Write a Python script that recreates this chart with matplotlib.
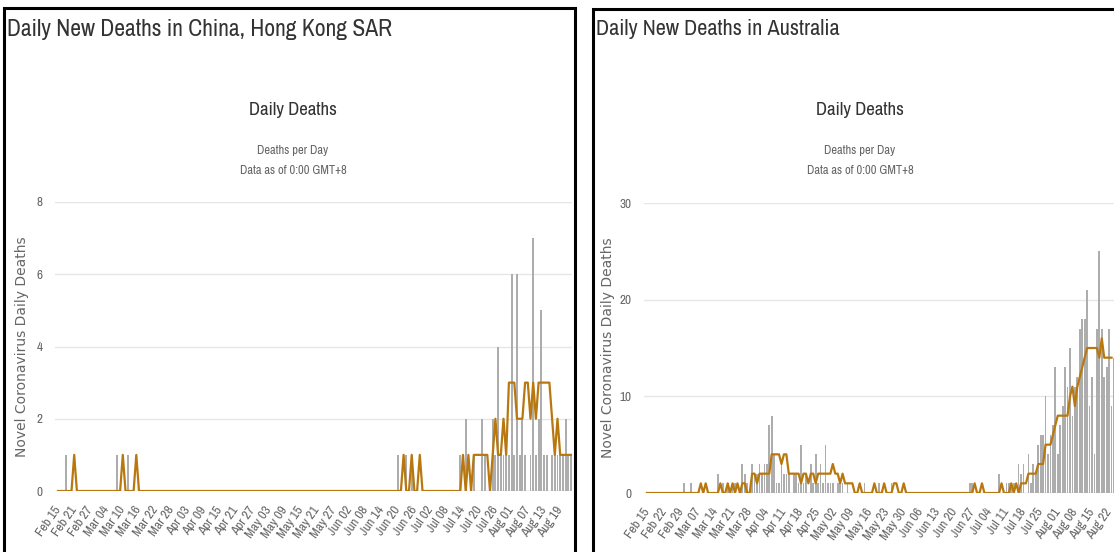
import matplotlib
matplotlib.use("Agg")
import matplotlib.pyplot as plt
import pandas as pd
from matplotlib.patches import Rectangle

# daily values, day 0 = Feb 15 2020
start = "2020-02-15"

# China, Hong Kong SAR (days 0..190)
hk_bars = ([0, 0, 0, 1, 0, 0, 0, 0, 0, 0, 0, 0, 0, 0, 0] +           # Feb 15-29
           [0] * 7 + [1, 0, 0, 0, 1] + [0] * 19 +                    # Mar
           [0] * 30 +                                                 # Apr
           [0] * 31 +                                                 # May
           [0] * 19 + [1, 0, 0, 1, 0, 1] + [0] * 5 +                  # Jun
           [0] * 12 + [1, 0, 2, 0, 0, 1, 0, 0, 2, 1, 0, 0, 2, 1, 4, 1, 1, 1, 1] +  # Jul
           [6, 1, 6, 1, 2, 1, 0, 1, 7, 1, 2, 5, 1, 1, 0, 1, 1, 1, 1, 1, 2, 1, 1])  # Aug 1-23
hk_line = ([0, 0, 0, 0, 0, 0, 1, 0, 0, 0, 0, 0, 0, 0, 0] +
           [0] * 9 + [1, 0, 0, 0, 0, 1] + [0] * 16 +
           [0] * 30 +
           [0] * 31 +
           [0] * 21 + [1, 0, 0, 1, 0, 0, 1, 0, 0] +
           [0] * 13 + [1, 0, 1, 0, 1, 1, 1, 1, 1, 1, 0, 1, 2, 1, 1, 2, 1, 3] +
           [3, 3, 2, 2, 2, 3, 3, 2, 3, 2, 3, 3, 3, 3, 3, 2, 1, 2, 1, 1, 1, 1, 1])

# Australia (days 0..192)
au_bars = ([0] * 15 +                                                 # Feb 15-29
           [1, 0, 0, 1, 0, 0, 0, 0, 0, 0, 0, 0, 0, 0, 2, 0, 1, 0, 1, 0, 1, 1, 0, 0,
            3, 2, 1, 0, 3, 2, 2] +                                    # Mar
           [3, 2, 3, 3, 7, 8, 4, 1, 1, 3, 2, 2, 2, 0, 2, 2, 1, 5, 1, 2, 0, 3, 1, 4, 1,
            3, 1, 5, 1, 1] +                                          # Apr
           [1, 0, 1, 1, 1, 0, 1, 0, 0, 0, 0, 0, 0, 1, 0, 0, 0, 0, 0, 1, 0, 0, 0, 0, 1,
            0, 0, 0, 0, 0, 0] +                                       # May
           [0] * 25 + [1, 1, 0, 0, 0] +                                # Jun
           [0] * 7 + [2, 0, 0, 1, 1, 1, 1, 0, 3, 2, 3, 0, 4, 1, 3, 2, 5, 6, 6, 10, 4,
            6, 7, 13, 4, 7] +                                         # Jul
           [9, 13, 11, 15, 8, 11, 12, 17, 18, 18, 21, 9, 12, 4, 17, 25, 17, 12, 13,
            17, 9, 14, 16])                                           # Aug 1-23
au_line = ([0] * 15 +
           [0, 0, 0, 0, 0, 0, 0, 1, 0, 1, 0, 0, 0, 0, 0, 1, 0, 0, 1, 0, 1, 0, 1, 0,
            1, 1, 0, 0, 2, 2, 1] +
           [2, 2, 2, 2, 2, 4, 4, 4, 4, 3, 4, 4, 2, 2, 2, 2, 2, 1, 2, 2, 1, 2, 2, 1, 2,
            2, 2, 2, 2, 2] +
           [3, 2, 2, 1, 2, 1, 1, 1, 1, 0, 0, 1, 0, 0, 0, 0, 0, 1, 0, 0, 0, 1, 0, 0, 0,
            1, 1, 0, 0, 1, 0] +
           [0] * 27 + [1, 0, 0] +
           [1] + [0] * 7 + [1, 0, 0, 0, 1, 0, 1, 0, 1, 1, 1, 2, 2, 2, 2, 3, 3, 3, 5,
            5, 5, 6, 7] +
           [8, 8, 8, 8, 8, 10, 11, 9, 11, 12, 13, 14, 15, 15, 15, 15, 15, 14, 16, 14,
            14, 14, 14])

W, H = 1114, 552
BAR = "#adadad"
LINE = "#b8780f"
NARROW = ["Archivo Narrow", "Liberation Sans", "DejaVu Sans"]


def fx(x):
    return x / W


def fy(y):
    return 1 - y / H


fig = plt.figure(figsize=(W / 100, H / 100), dpi=100)
fig.patch.set_facecolor("white")


def panel(title, title_size, bars, line, box, ax_px, day0_px, px_day, ymax, ystep,
          tick_step, cx, label_x):
    # black frame around each screenshot panel
    x0, y0, x1, y1 = box
    fig.add_artist(Rectangle((fx(x0), fy(y1)), fx(x1 - x0), (y1 - y0) / H,
                             fill=False, lw=2.2, ec="black", transform=fig.transFigure,
                             clip_on=False))
    fig.text(fx(x0 + 3), fy(29), title, fontsize=title_size, color="#333333",
             family=NARROW, va="center", ha="left")
    fig.text(fx(cx), fy(110), "Daily Deaths", fontsize=13.5, color="#333333",
             family=NARROW, ha="center", va="center")
    fig.text(fx(cx), fy(151), "Deaths per Day", fontsize=9, color="#666666",
             family=NARROW, ha="center", va="center")
    fig.text(fx(cx), fy(171), "Data as of 0:00 GMT+8", fontsize=9, color="#666666",
             family=NARROW, ha="center", va="center")

    left, right, top, bottom = ax_px
    ax = fig.add_axes([fx(left), fy(bottom), fx(right - left), (bottom - top) / H])
    days = list(range(len(bars)))
    ax.bar(days, bars, width=0.7, color=BAR, zorder=2)
    ax.plot(list(range(len(line))), line, color=LINE, lw=1.6, zorder=3)
    ax.set_xlim((left - day0_px) / px_day, (right - day0_px) / px_day)
    ax.set_ylim(0, ymax)
    ax.set_yticks(range(0, ymax + 1, ystep))
    ax.grid(axis="y", color="#e6e6e6", lw=1, zorder=0)
    ax.axhline(0, color="#ccd6eb", lw=1, zorder=1)
    for s in ax.spines.values():
        s.set_visible(False)
    ticks = list(range(0, len(bars), tick_step))
    labels = pd.date_range(start, periods=len(bars)).strftime("%b %d")
    ax.set_xticks(ticks)
    ax.set_xticklabels([labels[t] for t in ticks], rotation=55, ha="right",
                       va="center", rotation_mode="anchor", family=NARROW,
                       fontsize=9.5, color="#666666")
    ax.tick_params(axis="x", length=0, pad=12)
    ax.tick_params(axis="y", length=0, pad=9, labelcolor="#666666", labelsize=9.5)
    for t in ax.get_yticklabels():
        t.set_family(NARROW)
    ax.set_ylabel("Novel Coronavirus Daily Deaths", fontsize=10, color="#666666")
    ax.yaxis.set_label_coords((label_x - left) / (right - left), 0.5)
    ax.patch.set_alpha(0)
    return ax


panel("Daily New Deaths in China, Hong Kong SAR", 17, hk_bars, hk_line,
      (4, 8, 575, 600), (55, 572, 202, 491), 58, 2.7, 8, 2, 6, 293, 29)
panel("Daily New Deaths in Australia", 16, au_bars, au_line,
      (593, 9, 1160, 600), (644, 1150, 203, 493), 647, 2.445, 30, 10, 7, 860, 615)

fig.savefig("out.png", dpi=100)
